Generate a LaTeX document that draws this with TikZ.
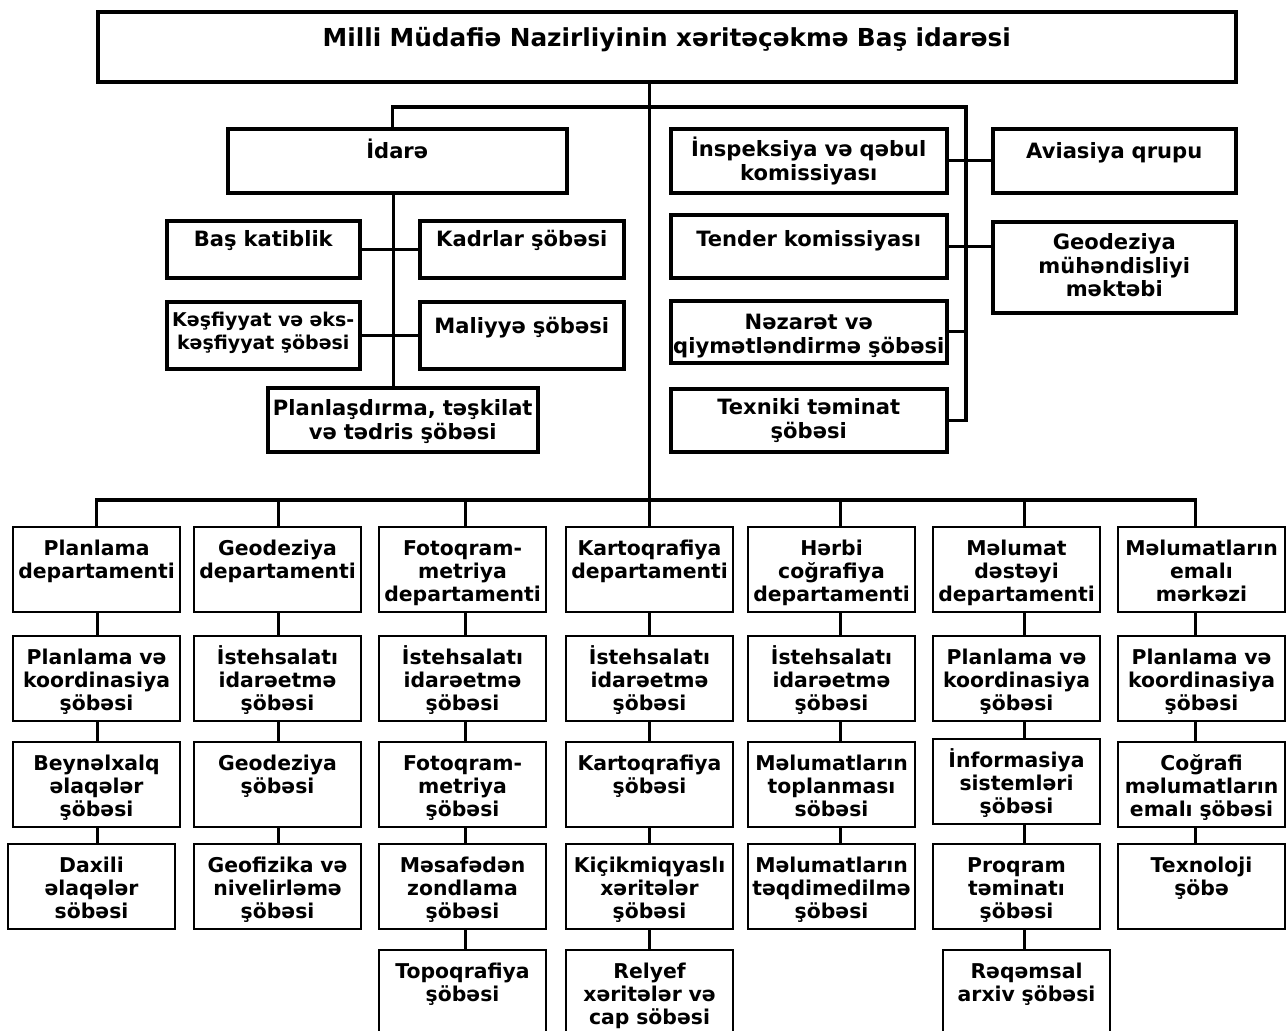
\documentclass[tikz,border=0pt]{standalone}
\usepackage{fontspec}
\setmainfont{DejaVu Sans}

\newlength\pxu
\setlength\pxu{0.02cm}

\tikzset{
    headbox/.style={draw, line width=2pt, inner sep=0pt, text width=1138\pxu, align=center,
        text height=35\pxu, text depth=35\pxu, font=\fontsize{14.1}{16}\selectfont\bfseries},
    upbox/.style 2 args={draw, line width=2pt, inner sep=0pt, align=center, text width=#1\pxu,
        text height=28\pxu, text depth=#2\pxu, font=\fontsize{12}{13.4}\selectfont\bfseries},
    unitbox/.style={draw, line width=1.2pt, inner sep=0pt, align=center, text width=167\pxu,
        text height=28\pxu, text depth=57\pxu, font=\fontsize{11.6}{13.3}\selectfont\bfseries},
    lastbox/.style={unitbox, text depth=80\pxu},
    link/.style={line width=1.8pt},
}

\begin{document}
\begin{tikzpicture}[x=0.02cm, y=-0.02cm]
    \useasboundingbox (0,0) rectangle (1286,1031);

    % Caja principal
    \node[headbox, anchor=north west] (basidare) at (96,10) {Milli Müdafiə Nazirliyinin xəritəçəkmə Baş idarəsi};

    % Rama izquierda
    \node[upbox={339}{34}, text height=30\pxu, anchor=north west] (idare) at (226,127) {İdarə};
    \node[upbox={193}{31}, text height=26\pxu, anchor=north west] (katiblik) at (165,219) {Baş katiblik};
    \node[upbox={204}{31}, text height=26\pxu, anchor=north west] (kadrlar) at (418,219) {Kadrlar şöbəsi};
    \node[upbox={193}{42}, text height=25\pxu, font=\fontsize{10.8}{13}\selectfont\bfseries, anchor=north west] (kesfiyyat) at (165,300) {Kəşfiyyat və əks-\\kəşfiyyat şöbəsi};
    \node[upbox={204}{35}, text height=32\pxu, anchor=north west] (maliyye) at (418,300) {Maliyyə şöbəsi};
    \node[upbox={270}{36}, anchor=north west] (planlasdirma) at (266,386) {Planlaşdırma, təşkilat\\və tədris şöbəsi};

    % Rama derecha
    \node[upbox={276}{36}, anchor=north west] (inspeksiya) at (669,127) {İnspeksiya və qəbul\\komissiyası};
    \node[upbox={243}{34}, text height=30\pxu, anchor=north west] (aviasiya) at (991,127) {Aviasiya qrupu};
    \node[upbox={276}{31}, text height=32\pxu, anchor=north west] (tender) at (669,213) {Tender komissiyası};
    \node[upbox={243}{63}, anchor=north west] (mekteb) at (991,220) {Geodeziya\\mühəndisliyi\\məktəbi};
    \node[upbox={276}{33}, text height=29\pxu, anchor=north west] (nezaret) at (669,299) {Nəzarət və\\qiymətləndirmə şöbəsi};
    \node[upbox={276}{37}, text height=26\pxu, anchor=north west] (texniki) at (669,387) {Texniki təminat\\şöbəsi};

    % Departamentos
    \node[unitbox, anchor=north west] (plan) at (12,526) {Planlama\\departamenti};
    \node[unitbox, anchor=north west] (geo) at (193,526) {Geodeziya\\departamenti};
    \node[unitbox, anchor=north west] (foto) at (378,526) {Fotoqram-\\metriya\\departamenti};
    \node[unitbox, anchor=north west] (karto) at (565,526) {Kartoqrafiya\\departamenti};
    \node[unitbox, anchor=north west] (herbi) at (747,526) {Hərbi\\coğrafiya\\departamenti};
    \node[unitbox, anchor=north west] (destek) at (932,526) {Məlumat\\dəstəyi\\departamenti};
    \node[unitbox, anchor=north west] (emal) at (1117,526) {Məlumatların\\emalı\\mərkəzi};

    % Segunda fila
    \node[unitbox, anchor=north west] (planko) at (12,635) {Planlama və\\koordinasiya\\şöbəsi};
    \node[unitbox, anchor=north west] (geoist) at (193,635) {İstehsalatı\\idarəetmə\\şöbəsi};
    \node[unitbox, anchor=north west] (fotoist) at (378,635) {İstehsalatı\\idarəetmə\\şöbəsi};
    \node[unitbox, anchor=north west] (kartoist) at (565,635) {İstehsalatı\\idarəetmə\\şöbəsi};
    \node[unitbox, anchor=north west] (herbiist) at (747,635) {İstehsalatı\\idarəetmə\\şöbəsi};
    \node[unitbox, anchor=north west] (desplan) at (932,635) {Planlama və\\koordinasiya\\şöbəsi};
    \node[unitbox, anchor=north west] (emalplan) at (1117,635) {Planlama və\\koordinasiya\\şöbəsi};

    % Tercera fila
    \node[unitbox, anchor=north west] (beynelxalq) at (12,741) {Beynəlxalq\\əlaqələr\\şöbəsi};
    \node[unitbox, anchor=north west] (geosob) at (193,741) {Geodeziya\\şöbəsi};
    \node[unitbox, anchor=north west] (fotosob) at (378,741) {Fotoqram-\\metriya\\şöbəsi};
    \node[unitbox, anchor=north west] (kartosob) at (565,741) {Kartoqrafiya\\şöbəsi};
    \node[unitbox, anchor=north west] (toplanma) at (747,741) {Məlumatların\\toplanması\\söbəsi};
    \node[unitbox, anchor=north west] (inform) at (932,738) {İnformasiya\\sistemləri\\şöbəsi};
    \node[unitbox, anchor=north west] (cografi) at (1117,741) {Coğrafi\\məlumatların\\emalı şöbəsi};

    % Cuarta fila
    \node[unitbox, anchor=north west] (daxili) at (7,843) {Daxili\\əlaqələr\\söbəsi};
    \node[unitbox, anchor=north west] (geofiz) at (193,843) {Geofizika və\\nivelirləmə\\şöbəsi};
    \node[unitbox, anchor=north west] (mesafe) at (378,843) {Məsafədən\\zondlama\\şöbəsi};
    \node[unitbox, anchor=north west] (kicik) at (565,843) {Kiçikmiqyaslı\\xəritələr\\şöbəsi};
    \node[unitbox, anchor=north west] (teqdim) at (747,843) {Məlumatların\\təqdimedilmə\\şöbəsi};
    \node[unitbox, anchor=north west] (proqram) at (932,843) {Proqram\\təminatı\\şöbəsi};
    \node[unitbox, anchor=north west] (texnoloji) at (1117,843) {Texnoloji\\şöbə};

    % Quinta fila
    \node[lastbox, anchor=north west] (topo) at (378,949) {Topoqrafiya\\şöbəsi};
    \node[lastbox, anchor=north west] (relyef) at (565,949) {Relyef\\xəritələr və\\cap söbəsi};
    \node[lastbox, anchor=north west] (reqemsal) at (942,949) {Rəqəmsal\\arxiv şöbəsi};

    % Línea central
    \draw[link] (basidare.south -| karto.north) -- (karto.north);

    % Líneas de las ramas superiores
    \coordinate (ustbus) at (966,107);
    \draw[link] ([xshift=-5\pxu]idare.north) |- (ustbus) |- (texniki.east);
    \draw[link] ([xshift=-4\pxu]idare.south) -- ([xshift=-4\pxu]idare.south |- planlasdirma.north);
    \draw[link] (katiblik.east) -- (kadrlar.west);
    \draw[link] (kesfiyyat.east) -- (maliyye.west);
    \draw[link] (inspeksiya.east) -- (aviasiya.west);
    \draw[link] (tender.east) -- (tender.east -| mekteb.west);
    \draw[link] (nezaret.east) -- (nezaret.east -| ustbus);

    % Barra de los departamentos
    \coordinate (altbus) at (648,500);
    \draw[link] (plan.north) |- (altbus) -| ([xshift=-6\pxu]emal.north);
    \foreach \d/\s in {geo/1, foto/3, herbi/9, destek/8}
        \draw[link] ([xshift=\s\pxu]\d.north) -- ([xshift=\s\pxu]\d.north |- altbus);

    % Columnas
    \foreach \a/\b/\s in {plan/planko/1, planko/beynelxalq/1, beynelxalq/daxili/1,
            geo/geoist/1, geoist/geosob/1, geosob/geofiz/1,
            foto/fotoist/3, fotoist/fotosob/3, fotosob/mesafe/3, mesafe/topo/3,
            karto/kartoist/0, kartoist/kartosob/0, kartosob/kicik/0, kicik/relyef/0,
            herbi/herbiist/9, herbiist/toplanma/9, toplanma/teqdim/9,
            destek/desplan/8, desplan/inform/8, inform/proqram/8, proqram/reqemsal/8,
            emal/emalplan/-6, emalplan/cografi/-6, cografi/texnoloji/-6}
        \draw[link] ([xshift=\s\pxu]\a.south) -- ([xshift=\s\pxu]\a.south |- \b.north);

\end{tikzpicture}
\end{document}
